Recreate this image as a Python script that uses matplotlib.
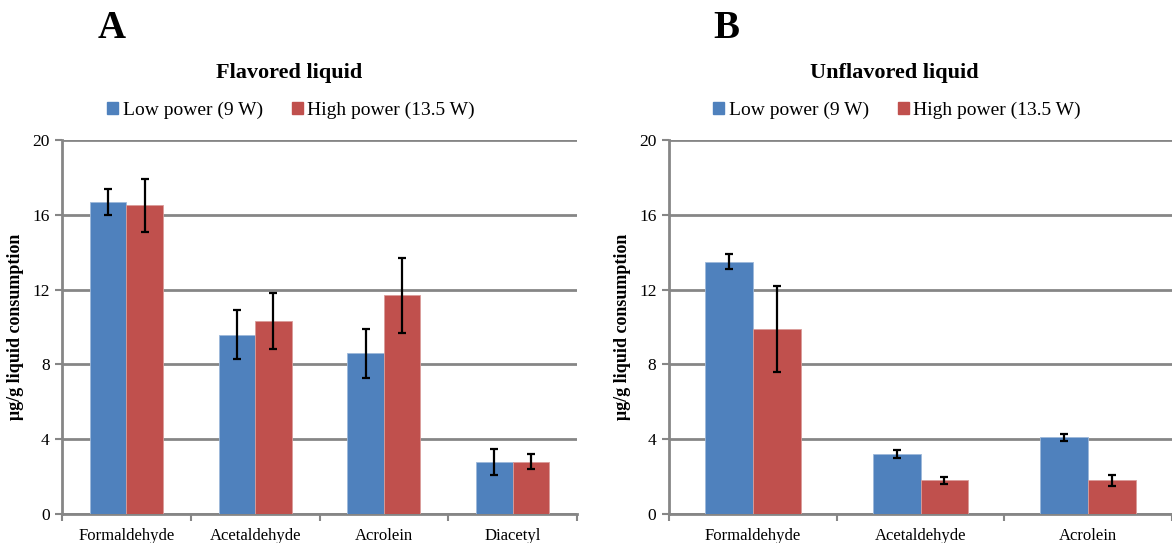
import numpy as np
import matplotlib
matplotlib.use("Agg")
import matplotlib.pyplot as plt
from matplotlib.patches import Patch

plt.rcParams['font.family'] = ['Liberation Serif', 'DejaVu Serif']

# Data
cats_a = ["Formaldehyde", "Acetaldehyde", "Acrolein", "Diacetyl"]
low_a = [16.7, 9.6, 8.6, 2.8]
low_a_err = [0.7, 1.3, 1.3, 0.7]
high_a = [16.5, 10.3, 11.7, 2.8]
high_a_err = [1.4, 1.5, 2.0, 0.4]

cats_b = ["Formaldehyde", "Acetaldehyde", "Acrolein"]
low_b = [13.5, 3.2, 4.1]
low_b_err = [0.4, 0.2, 0.2]
high_b = [9.9, 1.8, 1.8]
high_b_err = [2.3, 0.2, 0.3]

series_names = ["Low power (9 W)", "High power (13.5 W)"]
blue = "#4F81BD"
red = "#C0504D"
grid_col = "#868686"

fig = plt.figure(figsize=(11.72, 5.43), dpi=100)


def panel(ax, cats, low, low_err, high, high_err, bw, xmax):
    x = np.arange(len(cats))
    ax.bar(x - bw / 2, low, bw, color=blue, edgecolor="#9DB8DA", linewidth=0.6, zorder=3)
    ax.bar(x + bw / 2, high, bw, color=red, edgecolor="#DA9C9A", linewidth=0.6, zorder=3)
    ax.errorbar(x - bw / 2, low, yerr=low_err, fmt="none", ecolor="black",
                elinewidth=1.6, capsize=2.8, capthick=1.6, zorder=4)
    ax.errorbar(x + bw / 2, high, yerr=high_err, fmt="none", ecolor="black",
                elinewidth=1.6, capsize=2.8, capthick=1.6, zorder=4)
    ax.set_xlim(-0.5, xmax)
    ax.set_ylim(0, 20)
    ax.set_yticks([0, 4, 8, 12, 16, 20])
    ax.yaxis.grid(True, color=grid_col, linewidth=2)
    ax.set_axisbelow(True)
    ax.set_xticks(x)
    ax.set_xticklabels(cats, fontsize=12)
    ax.set_xticks(np.arange(len(cats) + 1) - 0.5, minor=True)
    ax.tick_params(axis="x", which="major", length=0, pad=10)
    ax.tick_params(axis="x", which="minor", length=5, width=1.5, color=grid_col)
    ax.tick_params(axis="y", length=5, width=1.5, color=grid_col, labelsize=12.5, pad=4)
    for s in ["top", "right"]:
        ax.spines[s].set_visible(False)
    for s in ["left", "bottom"]:
        ax.spines[s].set_color(grid_col)
        ax.spines[s].set_linewidth(2)
    ax.set_ylabel("μg/g liquid consumption", fontsize=13, fontweight="bold", labelpad=6)


ax_a = fig.add_axes([62 / 1172, 0.0534, 515 / 1172, 0.6887])
panel(ax_a, cats_a, low_a, low_a_err, high_a, high_a_err, 0.284, 3.5)

ax_b = fig.add_axes([669 / 1172, 0.0534, 503 / 1172, 0.6887])
panel(ax_b, cats_b, low_b, low_b_err, high_b, high_b_err, 0.285, 2.459)

# panel letters and titles
fig.text(112 / 1172, 1 - 29 / 543, "A", fontsize=28, fontweight="bold", ha="center", va="center")
fig.text(726 / 1172, 1 - 29 / 543, "B", fontsize=28, fontweight="bold", ha="center", va="center")
fig.text(289 / 1172, 1 - 73 / 543, "Flavored liquid", fontsize=16, fontweight="bold", ha="center", va="center")
fig.text(894 / 1172, 1 - 73 / 543, "Unflavored liquid", fontsize=16, fontweight="bold", ha="center", va="center")

handles = [Patch(color=blue), Patch(color=red)]
for cx in [291, 897]:
    fig.legend(handles, series_names, loc="center", bbox_to_anchor=(cx / 1172, 1 - 110 / 543),
               ncol=2, frameon=False, fontsize=14, handlelength=0.55, handleheight=0.55,
               handletextpad=0.25, columnspacing=1.5)

fig.savefig("out.png", dpi=100)
